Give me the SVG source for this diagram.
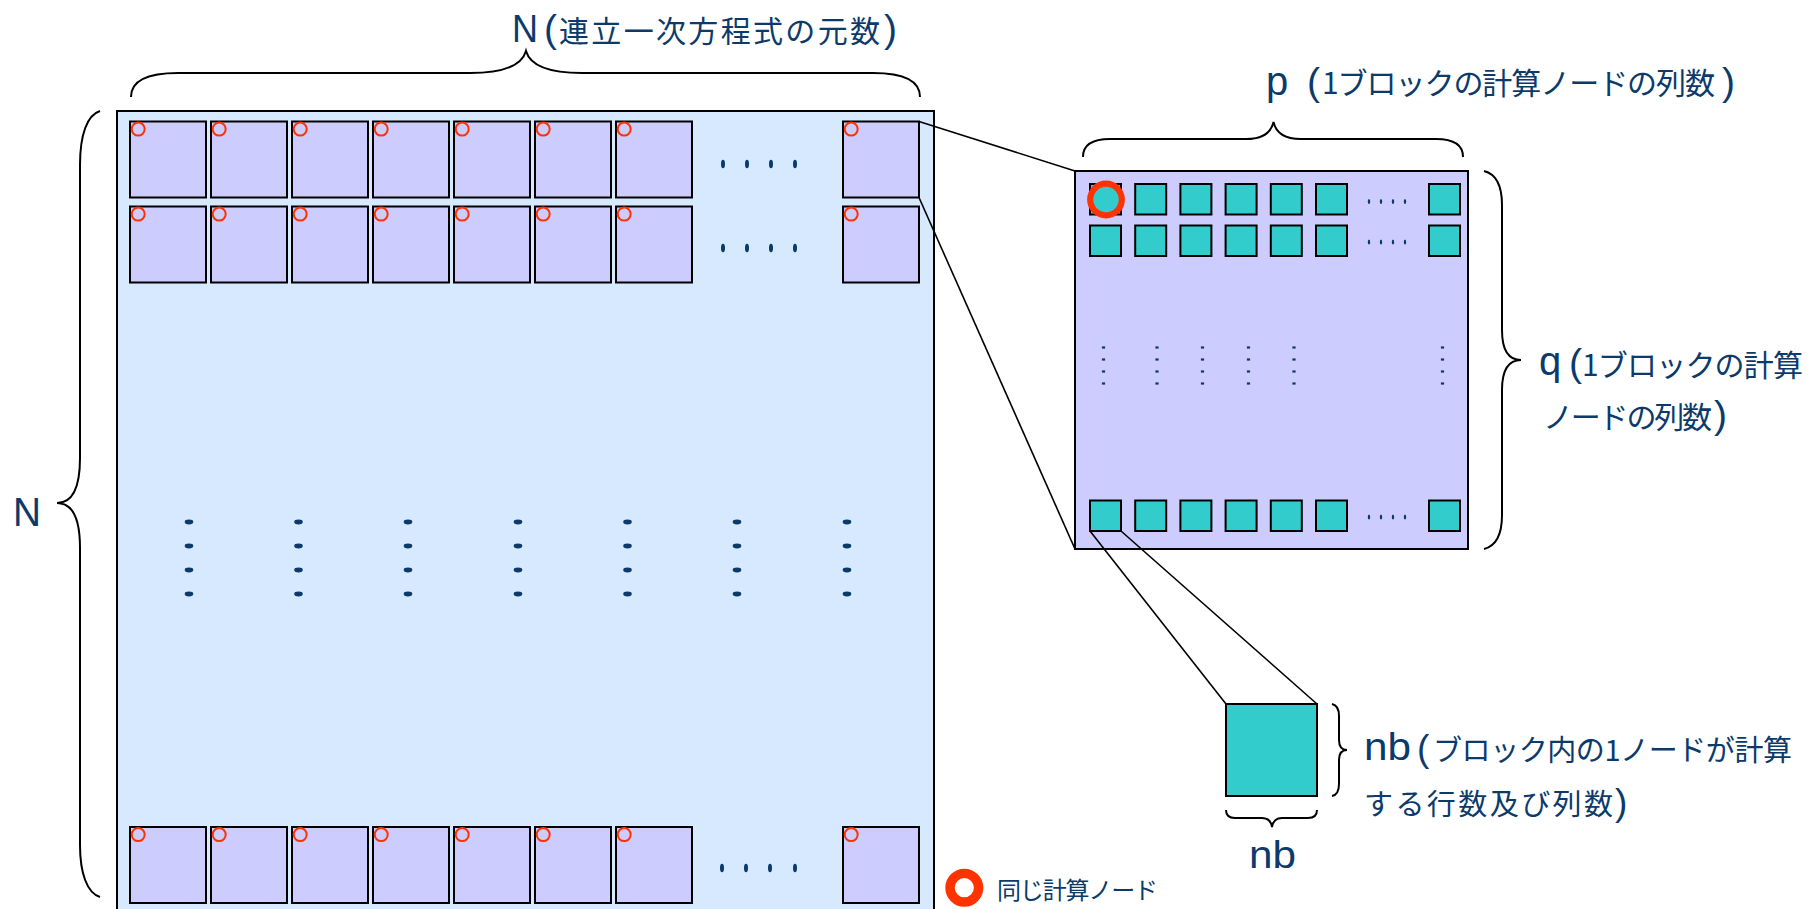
<svg xmlns="http://www.w3.org/2000/svg" width="1818" height="909" viewBox="0 0 1818 909">
<defs>
<style>
.t{font-family:"Noto Sans CJK JP","Liberation Sans",sans-serif;fill:#0b3a6b;}
.l{font-family:"Liberation Sans","Noto Sans",sans-serif;fill:#0b3a6b;}
.blk{fill:#ccccff;stroke:#000;stroke-width:2;}
.tq{fill:#33cccc;stroke:#000;stroke-width:2;}
.mk{fill:none;stroke:#ff3300;stroke-width:2;}
.br{fill:none;stroke:#000;stroke-width:2;}
.ln{stroke:#000;stroke-width:1.6;fill:none;}
.d{fill:#0b3a6b;}
</style>
<g id="b">
<rect class="blk" x="0" y="0" width="76" height="76"/>
<circle class="mk" cx="8.2" cy="7.6" r="6.5"/>
</g>
<ellipse id="hd" class="d" cx="0" cy="0" rx="2" ry="4.3"/>
<ellipse id="vd" class="d" cx="0" cy="0" rx="4.3" ry="2.4"/>
<ellipse id="ihd" class="d" cx="0" cy="0" rx="1.2" ry="2.5"/>
<rect id="ivd" class="d" x="-1.6" y="-1.1" width="3.2" height="2.2"/>
<rect id="sq" class="tq" x="0" y="0" width="31" height="30.5"/>
</defs>

<g id="matrix">
<rect x="117" y="111" width="817" height="830" fill="#d6e9fe" stroke="#000" stroke-width="2"/>
<g id="row1">
<use href="#b" x="130" y="121.5"/><use href="#b" x="211" y="121.5"/><use href="#b" x="292" y="121.5"/><use href="#b" x="373" y="121.5"/><use href="#b" x="454" y="121.5"/><use href="#b" x="535" y="121.5"/><use href="#b" x="616" y="121.5"/><use href="#b" x="843" y="121.5"/>
<use href="#hd" x="723" y="164"/><use href="#hd" x="747" y="164"/><use href="#hd" x="771" y="164"/><use href="#hd" x="795" y="164"/>
</g>
<g id="row2">
<use href="#b" x="130" y="206.5"/><use href="#b" x="211" y="206.5"/><use href="#b" x="292" y="206.5"/><use href="#b" x="373" y="206.5"/><use href="#b" x="454" y="206.5"/><use href="#b" x="535" y="206.5"/><use href="#b" x="616" y="206.5"/><use href="#b" x="843" y="206.5"/>
<use href="#hd" x="723" y="248"/><use href="#hd" x="747" y="248"/><use href="#hd" x="771" y="248"/><use href="#hd" x="795" y="248"/>
</g>
<g id="rowN">
<use href="#b" x="130" y="827"/><use href="#b" x="211" y="827"/><use href="#b" x="292" y="827"/><use href="#b" x="373" y="827"/><use href="#b" x="454" y="827"/><use href="#b" x="535" y="827"/><use href="#b" x="616" y="827"/><use href="#b" x="843" y="827"/>
<use href="#hd" x="722" y="868"/><use href="#hd" x="746" y="868"/><use href="#hd" x="770" y="868"/><use href="#hd" x="795" y="868"/>
</g>
<g id="vdots">
<use href="#vd" x="189" y="522"/><use href="#vd" x="189" y="546"/><use href="#vd" x="189" y="570"/><use href="#vd" x="189" y="594"/>
<use href="#vd" x="298.5" y="522"/><use href="#vd" x="298.5" y="546"/><use href="#vd" x="298.5" y="570"/><use href="#vd" x="298.5" y="594"/>
<use href="#vd" x="408" y="522"/><use href="#vd" x="408" y="546"/><use href="#vd" x="408" y="570"/><use href="#vd" x="408" y="594"/>
<use href="#vd" x="518" y="522"/><use href="#vd" x="518" y="546"/><use href="#vd" x="518" y="570"/><use href="#vd" x="518" y="594"/>
<use href="#vd" x="627.5" y="522"/><use href="#vd" x="627.5" y="546"/><use href="#vd" x="627.5" y="570"/><use href="#vd" x="627.5" y="594"/>
<use href="#vd" x="737" y="522"/><use href="#vd" x="737" y="546"/><use href="#vd" x="737" y="570"/><use href="#vd" x="737" y="594"/>
<use href="#vd" x="847" y="522"/><use href="#vd" x="847" y="546"/><use href="#vd" x="847" y="570"/><use href="#vd" x="847" y="594"/>
</g>
</g>

<g id="block-detail">
<rect x="1075" y="171" width="393" height="378" fill="#ccccff" stroke="#000" stroke-width="2"/>
<g id="irow1">
<use href="#sq" x="1090" y="184"/><use href="#sq" x="1135.2" y="184"/><use href="#sq" x="1180.4" y="184"/><use href="#sq" x="1225.6" y="184"/><use href="#sq" x="1270.8" y="184"/><use href="#sq" x="1316" y="184"/><use href="#sq" x="1429" y="184"/>
<use href="#ihd" x="1369" y="201.5"/><use href="#ihd" x="1381" y="201.5"/><use href="#ihd" x="1393" y="201.5"/><use href="#ihd" x="1405" y="201.5"/>
</g>
<g id="irow2">
<use href="#sq" x="1090" y="225.5"/><use href="#sq" x="1135.2" y="225.5"/><use href="#sq" x="1180.4" y="225.5"/><use href="#sq" x="1225.6" y="225.5"/><use href="#sq" x="1270.8" y="225.5"/><use href="#sq" x="1316" y="225.5"/><use href="#sq" x="1429" y="225.5"/>
<use href="#ihd" x="1369" y="242"/><use href="#ihd" x="1381" y="242"/><use href="#ihd" x="1393" y="242"/><use href="#ihd" x="1405" y="242"/>
</g>
<g id="irowN">
<use href="#sq" x="1090" y="500.5"/><use href="#sq" x="1135.2" y="500.5"/><use href="#sq" x="1180.4" y="500.5"/><use href="#sq" x="1225.6" y="500.5"/><use href="#sq" x="1270.8" y="500.5"/><use href="#sq" x="1316" y="500.5"/><use href="#sq" x="1429" y="500.5"/>
<use href="#ihd" x="1369" y="517"/><use href="#ihd" x="1381" y="517"/><use href="#ihd" x="1393" y="517"/><use href="#ihd" x="1405" y="517"/>
</g>
<g id="ivdots">
<use href="#ivd" x="1103.5" y="347.5"/><use href="#ivd" x="1103.5" y="359.5"/><use href="#ivd" x="1103.5" y="371.5"/><use href="#ivd" x="1103.5" y="383.5"/>
<use href="#ivd" x="1157" y="347.5"/><use href="#ivd" x="1157" y="359.5"/><use href="#ivd" x="1157" y="371.5"/><use href="#ivd" x="1157" y="383.5"/>
<use href="#ivd" x="1202.5" y="347.5"/><use href="#ivd" x="1202.5" y="359.5"/><use href="#ivd" x="1202.5" y="371.5"/><use href="#ivd" x="1202.5" y="383.5"/>
<use href="#ivd" x="1248.5" y="347.5"/><use href="#ivd" x="1248.5" y="359.5"/><use href="#ivd" x="1248.5" y="371.5"/><use href="#ivd" x="1248.5" y="383.5"/>
<use href="#ivd" x="1294" y="347.5"/><use href="#ivd" x="1294" y="359.5"/><use href="#ivd" x="1294" y="371.5"/><use href="#ivd" x="1294" y="383.5"/>
<use href="#ivd" x="1442.5" y="347.5"/><use href="#ivd" x="1442.5" y="359.5"/><use href="#ivd" x="1442.5" y="371.5"/><use href="#ivd" x="1442.5" y="383.5"/>
</g>
<circle cx="1106" cy="199.5" r="15.8" fill="none" stroke="#ff3300" stroke-width="6.2"/>
</g>

<g id="node-detail">
<rect class="tq" x="1226" y="704" width="91" height="92"/>
</g>

<g id="connectors">
<line class="ln" x1="919" y1="121.5" x2="1075" y2="171"/>
<line class="ln" x1="919" y1="197.5" x2="1075" y2="549"/>
<line class="ln" x1="1090" y1="531" x2="1226" y2="704"/>
<line class="ln" x1="1121" y1="531" x2="1317" y2="704"/>
</g>

<g id="braces">
<path class="br" d="M131,97 C131,81 148,73 178,73 L470,73 C505,73 522,65 526,51 C530,65 547,73 582,73 L873,73 C903,73 920,81 920,97"/>
<path class="br" d="M100,111 C87,115 80,135 80,165 L80,458 C80,488 72,503 57,503 C72,503 80,518 80,548 L80,845 C80,873 87,893 100,897"/>
<path class="br" d="M1083,157 C1083,145 1092,139 1110,139 L1246,139 C1263,139 1271,133 1273.5,122 C1276,133 1284,139 1301,139 L1436,139 C1454,139 1463,145 1463,157"/>
<path class="br" d="M1484,171 C1496,174 1502,185 1502,205 L1502,330 C1502,350 1508,360 1521,360 C1508,360 1502,370 1502,390 L1502,515 C1502,535 1496,546 1484,549"/>
<path class="br" d="M1332,704 C1337,705 1339,709 1339,716 L1339,740 C1339,747 1342,750 1347,750 C1342,750 1339,753 1339,760 L1339,784 C1339,791 1337,795 1332,796"/>
<path class="br" d="M1226,810 C1226,815 1229,818 1235,818 L1262,818 C1268,818 1271,821 1272,827 C1273,821 1276,818 1282,818 L1308,818 C1314,818 1317,815 1317,810"/>
</g>

<g id="labels">
<g id="label-N-top">
<text class="l" font-size="39" x="512" y="42" textLength="26" lengthAdjust="spacingAndGlyphs">N</text>
<text class="l" font-size="39" x="544" y="42">(</text>
<text class="t" font-size="30" x="559" y="42" textLength="321">連立一次方程式の元数</text>
<text class="l" font-size="39" x="884" y="42">)</text>
</g>
<g id="label-N-left">
<text class="l" font-size="41" x="13" y="526" textLength="28" lengthAdjust="spacingAndGlyphs">N</text>
</g>
<g id="label-p">
<text class="l" font-size="40" x="1266" y="95">p</text>
<text class="l" font-size="39" x="1307" y="95">(</text>
<text class="t" font-size="30" x="1322" y="94" textLength="393">1ブロックの計算ノードの列数</text>
<text class="l" font-size="39" x="1722" y="95">)</text>
</g>
<g id="label-q">
<text class="l" font-size="40" x="1539" y="375">q</text>
<text class="l" font-size="39" x="1569" y="376">(</text>
<text class="t" font-size="30" x="1582" y="376" textLength="221">1ブロックの計算</text>
<text class="t" font-size="30" x="1543" y="428" textLength="169">ノードの列数</text>
<text class="l" font-size="39" x="1714" y="428">)</text>
</g>
<g id="label-nb">
<text class="l" font-size="38" x="1364" y="760" textLength="47" lengthAdjust="spacingAndGlyphs">nb</text>
<text class="l" font-size="37" x="1417" y="761">(</text>
<text class="t" font-size="29" x="1433" y="761" textLength="359">ブロック内の1ノードが計算</text>
<text class="t" font-size="29" x="1364" y="815" textLength="249">する行数及び列数</text>
<text class="l" font-size="37" x="1615" y="815">)</text>
</g>
<g id="label-nb-bottom">
<text class="l" font-size="38" x="1249" y="868" textLength="47" lengthAdjust="spacingAndGlyphs">nb</text>
</g>
<g id="legend">
<circle cx="964.3" cy="887.7" r="14.3" fill="none" stroke="#ff3300" stroke-width="9.4"/>
<text class="t" font-size="24" x="997" y="899" textLength="161">同じ計算ノード</text>
</g>
</g>
</svg>
